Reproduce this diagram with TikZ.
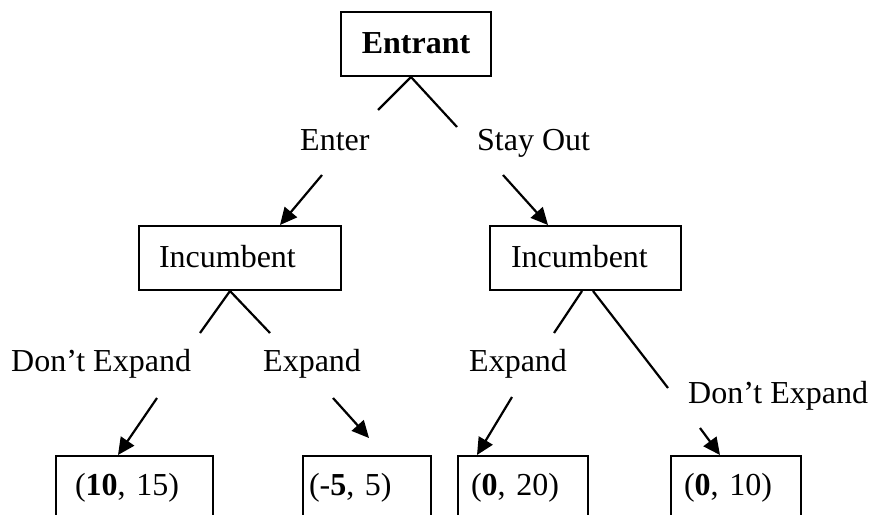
\documentclass[tikz,border=0pt]{standalone}
\usepackage{fontspec}
\setmainfont{Liberation Serif}
\usetikzlibrary{arrows.meta,calc}
\begin{document}
\begin{tikzpicture}[x=1pt,y=-1pt,
  font=\fontsize{32}{38}\selectfont,
  box/.style={draw,line width=2pt,anchor=north west,align=left,
    text height=22pt,text depth=4pt,inner ysep=19pt},
  paybox/.style={box,text height=20pt,text depth=70pt},
  lbl/.style={anchor=base west,inner sep=0pt},
  conn/.style={line width=2.2pt},
  arr/.style={line width=2.2pt,-{Triangle[length=17pt,width=16pt]}}]
\useasboundingbox (0,0) rectangle (872,514);
\clip (0,0) rectangle (872,514);
% decision boxes
\node[box,align=center,text width=110pt,inner xsep=20pt] (ent) at (340,11) {\textbf{Entrant}};
\node[box,text width=162pt,inner xsep=20pt] (inc1) at (138,225) {Incumbent};
\node[box,text width=149pt,inner xsep=21pt] (inc2) at (489,225) {Incumbent};
% payoff boxes
\node[paybox,text width=119pt,inner xsep=19pt] (p1) at (55,455) {(\textbf{10}, 15)};
\node[paybox,text width=116pt,inner xsep=6pt] (p2) at (302,455) {(-\textbf{5}, 5)};
\node[paybox,text width=104pt,inner xsep=13pt] (p3) at (457,455) {(\textbf{0}, 20)};
\node[paybox,text width=104pt,inner xsep=13pt] (p4) at (670,455) {(\textbf{0}, 10)};
% action labels
\node[lbl] (enter) at (300,150) {Enter};
\node[lbl] (stay) at (477,150) {Stay Out};
\node[lbl] (dx1) at (11,371) {Don’t Expand};
\node[lbl] (ex1) at (263,371) {Expand};
\node[lbl] (ex2) at (469,371) {Expand};
\node[lbl] (dx2) at (688,403) {Don’t Expand};
% free ends
\coordinate (e1) at (378,110);
\coordinate (e2) at (457,127);
\coordinate (s1) at (322,175);
\coordinate (s2) at (503,175);
\coordinate (f1) at (200,333);
\coordinate (f2) at (270,333);
\coordinate (f3) at (554,333);
\coordinate (f4) at (668,388);
\coordinate (t1) at (157,398);
\coordinate (t2) at (333,398);
\coordinate (t2end) at (369,438);
\coordinate (t3) at (512,397);
\coordinate (t4) at (700,428);
% connectors
\draw[conn] ([xshift=-5pt]ent.south) -- (e1);
\draw[conn] ([xshift=-5pt]ent.south) -- (e2);
\draw[arr] (s1) -- ([xshift=142pt]inc1.north west);
\draw[arr] (s2) -- ([xshift=59pt]inc2.north west);
\draw[conn] ([xshift=92pt]inc1.south west) -- (f1);
\draw[conn] ([xshift=92pt]inc1.south west) -- (f2);
\draw[conn] ([xshift=93pt]inc2.south west) -- (f3);
\draw[conn] ([xshift=104pt]inc2.south west) -- (f4);
\draw[arr] (t1) -- ([xshift=63pt]p1.north west);
\draw[arr] (t2) -- (t2end);
\draw[arr] (t3) -- ([xshift=20pt]p3.north west);
\draw[arr] (t4) -- ([xshift=50pt]p4.north west);
\end{tikzpicture}
\end{document}
